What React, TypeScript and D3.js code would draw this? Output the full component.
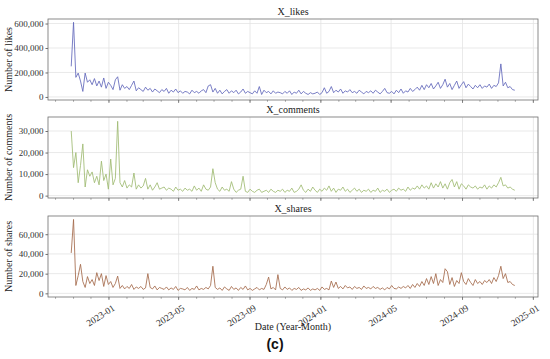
import { useEffect, useRef } from 'react';
import * as d3 from 'd3';

// one value every 4 days, starting 2022-10-28
const startDate = '2022-10-28';
const stepDays = 4;

const likes = [
  250000, 610000, 160000, 195000, 130000, 45000, 195000, 120000, 140000, 100000,
  150000, 90000, 130000, 80000, 155000, 70000, 120000, 95000, 60000, 140000,
  165000, 55000, 100000, 70000, 85000, 60000, 95000, 130000, 50000, 75000,
  60000, 45000, 80000, 55000, 70000, 40000, 65000, 50000, 35000, 60000,
  45000, 70000, 30000, 55000, 40000, 65000, 35000, 50000, 30000, 45000,
  40000, 25000, 55000, 35000, 45000, 30000, 50000, 60000, 35000, 90000,
  100000, 40000, 70000, 30000, 55000, 25000, 45000, 60000, 30000, 50000,
  35000, 55000, 25000, 40000, 65000, 30000, 45000, 35000, 25000, 50000,
  30000, 85000, 20000, 55000, 35000, 45000, 25000, 50000, 30000, 40000,
  35000, 25000, 45000, 30000, 50000, 20000, 40000, 30000, 55000, 25000,
  45000, 30000, 20000, 35000, 25000, 30000, 40000, 20000, 35000, 75000,
  30000, 45000, 85000, 35000, 55000, 40000, 65000, 30000, 50000, 40000,
  60000, 35000, 45000, 30000, 55000, 40000, 25000, 45000, 35000, 50000,
  30000, 55000, 40000, 25000, 45000, 70000, 35000, 30000, 45000, 25000,
  55000, 35000, 65000, 30000, 50000, 40000, 70000, 45000, 60000, 80000,
  55000, 95000, 60000, 100000, 75000, 110000, 65000, 90000, 120000, 70000,
  100000, 145000, 80000, 110000, 60000, 95000, 130000, 70000, 100000, 125000,
  75000, 105000, 85000, 65000, 95000, 75000, 100000, 70000, 90000, 80000,
  105000, 70000, 95000, 85000, 115000, 270000, 90000, 120000, 75000, 85000,
  60000, 55000,
];

const comments = [
  30000, 13000, 20000, 6000, 14000, 24000, 4000, 12000, 9000, 11000,
  6000, 9000, 5000, 16000, 7000, 10000, 3000, 17000, 5000, 8000,
  34500, 6000, 4000, 7000, 3500, 5000, 4000, 10500, 3000, 5000,
  3500, 4500, 8000, 3000, 5000, 2500, 4000, 6000, 3000, 3500,
  4000, 2500, 3500, 3000, 2000, 4000, 2500, 3000, 2000, 3500,
  2500, 3000, 2000, 4500, 2500, 3500, 2000, 5000, 3000, 2500,
  4000, 12500, 6000, 3000, 2000, 4000, 2500, 3000, 2000, 6500,
  3000, 1500, 2500, 3000, 9000, 2000, 1500, 3000, 2000, 1500,
  2500, 3000, 1500, 2000, 2500, 1500, 3000, 2000, 1500, 2500,
  2000, 3000, 1500, 2500, 2000, 3500, 1500, 2000, 3000, 5000,
  2500, 1500, 3000, 2000, 4000, 2500, 1500, 3000, 2000, 3500,
  2500, 4500, 2000, 3500, 1500, 3000, 2500, 4000, 2000, 3000,
  1500, 2500, 3500, 2000, 3000, 1500, 2500, 2000, 3000, 1500,
  2500, 2000, 3500, 1500, 2500, 2000, 3000, 1500, 2500, 3000,
  2000, 3500, 2500, 3000, 2000, 4000, 2500, 3500, 3000, 4500,
  3000, 5000, 3500, 4500, 3000, 6000, 3500, 5500, 4000, 6500,
  3500, 5500, 3000, 6000, 7500, 4000, 6500, 3000, 5500, 4500,
  3000, 5000, 4000, 3500, 4500, 3000, 4000, 3500, 5000, 3000,
  4500, 3500, 5000, 4000, 6000, 8500, 4500, 5000, 3500, 4000,
  3000, 2500,
];

const shares = [
  41000, 75000, 8000, 18000, 29500, 12000, 6000, 17000, 10000, 14000,
  8000, 21000, 13000, 20000, 7000, 18000, 9000, 12000, 6000, 10000,
  17500, 5000, 8000, 4500, 7000, 5000, 9000, 4000, 6500, 5000,
  7000, 4000, 5500, 20000, 6000, 4500, 7500, 3500, 6000, 5000,
  4000, 6500, 3500, 5500, 4000, 7000, 3000, 5000, 4500, 3500,
  6000, 3000, 5000, 4000, 7500, 3500, 5000, 4000, 6000, 4500,
  8000, 27500, 6000, 4000, 5500, 3000, 6500, 4500, 3000, 7000,
  4000, 5500, 3000, 6000, 4000, 7500, 3500, 5000, 3000, 4500,
  6000, 3500, 5000, 4000, 9000, 16500, 4500, 6000, 3500, 19000,
  5000, 3500, 6500, 4000, 5500, 3000, 5000, 4000, 6000, 3000,
  4500, 3500, 5500, 3000, 4500, 3500, 5000, 3000, 6500, 4000,
  5000, 3500, 12500, 6000, 11500, 5000, 7000, 4500, 8000, 5500,
  6500, 4000, 7000, 5000, 6000, 4000, 7500, 5000, 6000, 4500,
  7000, 5000, 6000, 4000, 5500, 3500, 6000, 4500, 8000, 5000,
  4500, 6500, 5000, 7000, 5500, 8000, 5000, 9000, 6000, 10000,
  7000, 12000, 8000, 15000, 9000, 17000, 10000, 20000, 8000, 14000,
  11000, 25000, 22000, 9000, 16000, 7000, 13000, 10000, 21000, 12000,
  9000, 15000, 11000, 8000, 14000, 10000, 12000, 9000, 13000, 11000,
  14000, 10000, 16000, 12000, 18000, 27500, 15000, 20000, 11000, 12000,
  9000, 8000,
];

const panelTitles = ['X_likes', 'X_comments', 'X_shares'];
const yLabels = ['Number of likes', 'Number of comments', 'Number of shares'];
const yTicks = [
  [0, 200000, 400000, 600000],
  [0, 10000, 20000, 30000],
  [0, 20000, 40000, 60000],
];
const yDomains = [
  [-25000, 637000],
  [-1100, 36500],
  [-3700, 78500],
];
const xTickLabels = ['2023-01', '2023-05', '2023-09', '2024-01', '2024-05', '2024-09', '2025-01'];
const lineColors = ['#6268bb', '#9fbb72', '#a46a4c'];

const App = () => {
  const svgRef = useRef<SVGSVGElement>(null);

  useEffect(() => {
    const width = 550;
    const height = 359;
    const left = 48;
    const right = 538;
    const panels = [
      { top: 19, bottom: 100 },
      { top: 117, bottom: 198 },
      { top: 216, bottom: 297 },
    ];
    const font = '"Liberation Serif", "DejaVu Serif", serif';

    const svg = d3.select(svgRef.current)
      .attr('width', width)
      .attr('height', height)
      .style('position', 'absolute')
      .style('left', 0)
      .style('top', 0)
      .style('background-color', '#ffffff');

    svg.selectAll('*').remove();

    const parse = d3.utcParse('%Y-%m-%d');
    const t0 = parse(startDate)!;
    const dates = likes.map((_, i) => d3.utcDay.offset(t0, i * stepDays));
    const series = [likes, comments, shares];

    const xScale = d3.scaleUtc()
      .domain([parse('2022-09-18')!, parse('2025-01-09')!])
      .range([left, right]);

    const majorTicks = xTickLabels.map(s => d3.utcParse('%Y-%m')(s)!);
    const minorTicks = d3.utcMonth.range(xScale.domain()[0], xScale.domain()[1]);

    panels.forEach((p, k) => {
      const yScale = d3.scaleLinear()
        .domain(yDomains[k])
        .range([p.bottom, p.top]);

      const g = svg.append('g');

      // grid
      g.selectAll('.hgrid')
        .data(yTicks[k])
        .enter()
        .append('line')
        .attr('x1', left)
        .attr('x2', right)
        .attr('y1', d => yScale(d))
        .attr('y2', d => yScale(d))
        .attr('stroke', '#e3e3e3')
        .attr('stroke-width', 0.8);

      g.selectAll('.vgrid')
        .data(majorTicks)
        .enter()
        .append('line')
        .attr('x1', d => xScale(d))
        .attr('x2', d => xScale(d))
        .attr('y1', p.top)
        .attr('y2', p.bottom)
        .attr('stroke', '#e3e3e3')
        .attr('stroke-width', 0.8);

      // line
      const line = d3.line<number>()
        .x((_, i) => xScale(dates[i]))
        .y(d => yScale(d));

      g.append('path')
        .datum(series[k])
        .attr('fill', 'none')
        .attr('stroke', lineColors[k])
        .attr('stroke-width', 0.85)
        .attr('stroke-linejoin', 'round')
        .attr('d', line);

      // frame
      g.append('rect')
        .attr('x', left)
        .attr('y', p.top)
        .attr('width', right - left)
        .attr('height', p.bottom - p.top)
        .attr('fill', 'none')
        .attr('stroke', '#6e6e6e')
        .attr('stroke-width', 0.8);

      // y axis
      const yAxis = g.append('g')
        .attr('transform', `translate(${left},0)`)
        .call(d3.axisLeft(yScale).tickValues(yTicks[k]).tickSize(2.5).tickPadding(2).tickFormat(d3.format(',')));
      yAxis.select('.domain').remove();
      yAxis.selectAll('line').attr('stroke', '#6e6e6e');
      yAxis.selectAll('text')
        .style('font-family', font)
        .style('font-size', '9px')
        .attr('fill', '#333');

      // x ticks (minor monthly, major every 4 months)
      g.selectAll('.minor')
        .data(minorTicks)
        .enter()
        .append('line')
        .attr('x1', d => xScale(d))
        .attr('x2', d => xScale(d))
        .attr('y1', p.bottom)
        .attr('y2', p.bottom + 1.8)
        .attr('stroke', '#6e6e6e')
        .attr('stroke-width', 0.6);

      g.selectAll('.major')
        .data(majorTicks)
        .enter()
        .append('line')
        .attr('x1', d => xScale(d))
        .attr('x2', d => xScale(d))
        .attr('y1', p.bottom)
        .attr('y2', p.bottom + 3)
        .attr('stroke', '#6e6e6e')
        .attr('stroke-width', 0.8);

      // title
      g.append('text')
        .attr('x', (left + right) / 2)
        .attr('y', p.top - 4)
        .attr('text-anchor', 'middle')
        .style('font-family', font)
        .style('font-size', '10px')
        .attr('fill', '#222')
        .text(panelTitles[k]);

      // y label
      g.append('text')
        .attr('text-anchor', 'middle')
        .attr('transform', `translate(12,${(p.top + p.bottom) / 2})rotate(-90)`)
        .style('font-family', font)
        .style('font-size', '10px')
        .attr('fill', '#222')
        .text(yLabels[k]);
    });

    // rotated x tick labels under the last panel
    const last = panels[2];
    svg.selectAll('.xlab')
      .data(majorTicks)
      .enter()
      .append('text')
      .attr('transform', d => `translate(${xScale(d) + 3},${last.bottom + 7})rotate(-33)`)
      .attr('text-anchor', 'end')
      .attr('dy', '0.7em')
      .style('font-family', font)
      .style('font-size', '9.5px')
      .attr('fill', '#333')
      .text((_, i) => xTickLabels[i]);

    svg.append('text')
      .attr('x', (left + right) / 2)
      .attr('y', 330)
      .attr('text-anchor', 'middle')
      .style('font-family', font)
      .style('font-size', '10px')
      .attr('fill', '#222')
      .text('Date (Year-Month)');

    svg.append('text')
      .attr('x', 275)
      .attr('y', 349)
      .attr('text-anchor', 'middle')
      .style('font-family', '"Liberation Sans", Arial, sans-serif')
      .style('font-size', '14px')
      .style('font-weight', 'bold')
      .attr('fill', '#111')
      .text('(c)');
  }, []);

  return <svg ref={svgRef}></svg>;
};

export default App;
